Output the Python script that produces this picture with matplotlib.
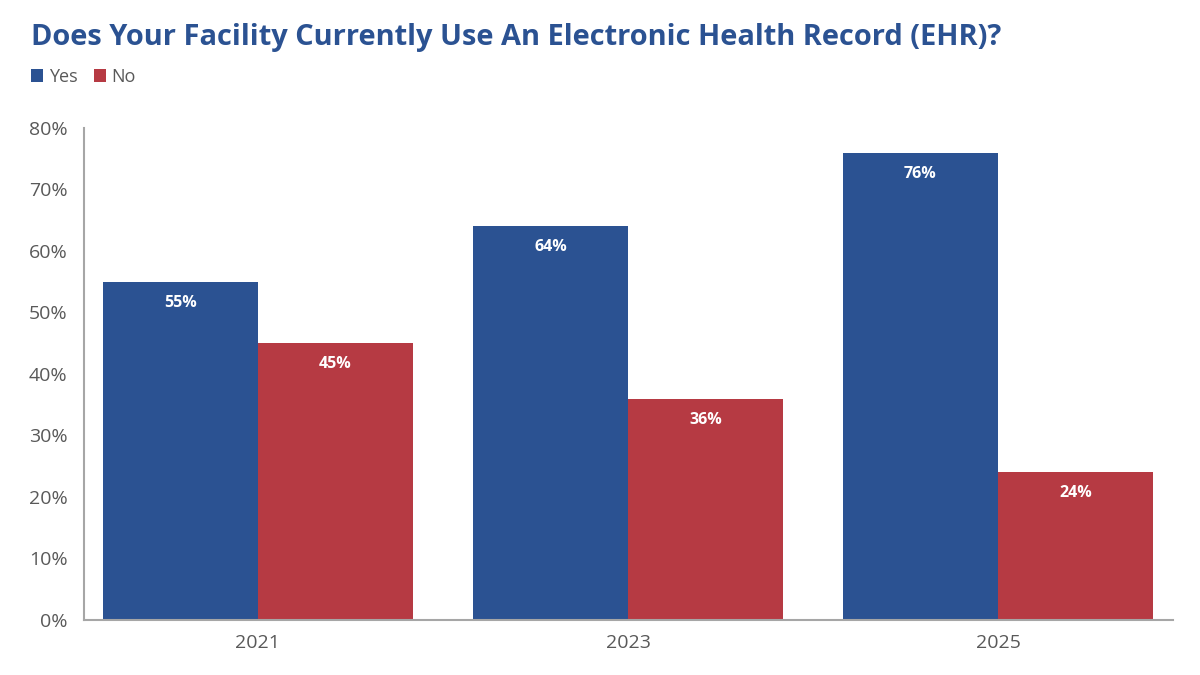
import matplotlib.pyplot as plt
import numpy as np

# データ
years = ["2021", "2023", "2025"]
yes_vals = [55, 64, 76]
no_vals = [45, 36, 24]
series_names = ["Yes", "No"]

BLUE = "#2B5292"
RED = "#B63A43"
GRAY = "#595959"

plt.rcParams['font.family'] = ['Open Sans', 'DejaVu Sans']

fig = plt.figure(figsize=(12, 6.75), dpi=100)
ax = fig.add_axes([0.07, 0.0815, 0.9075, 0.729])

x = np.arange(len(years))
w = 0.419
b1 = ax.bar(x - w / 2, yes_vals, w, color=BLUE, label=series_names[0])
b2 = ax.bar(x + w / 2, no_vals, w, color=RED, label=series_names[1])

# 値ラベル
for bars, vals in [(b1, yes_vals), (b2, no_vals)]:
    for rect, v in zip(bars, vals):
        ax.annotate(f"{v}%", (rect.get_x() + rect.get_width() / 2, rect.get_height()),
                    xytext=(0, -21), textcoords="offset pixels",
                    ha="center", va="center", color="white",
                    fontsize=11.5, fontweight="bold")

ax.set_ylim(0, 80)
ax.set_xlim(-0.47, 2.473)
ax.set_yticks(range(0, 81, 10))
ax.set_yticklabels([f"{t}%" for t in range(0, 81, 10)])
ax.set_xticks(x)
ax.set_xticklabels(years)
ax.tick_params(axis="both", length=0, labelsize=14, colors=GRAY)
ax.tick_params(axis="y", pad=12)
ax.tick_params(axis="x", pad=10)
for s in ["top", "right"]:
    ax.spines[s].set_visible(False)
for s in ["left", "bottom"]:
    ax.spines[s].set_color("#A6A6A6")
    ax.spines[s].set_linewidth(1.5)

fig.text(0.026, 0.945, "Does Your Facility Currently Use An Electronic Health Record (EHR)?",
         fontsize=20.9, fontweight="bold", color=BLUE, va="center", ha="left")

fig.legend(handles=[b1, b2], labels=series_names, loc="center left",
           bbox_to_anchor=(0.012, 0.886), ncol=2, frameon=False,
           handlelength=0.7, handleheight=0.7, handletextpad=0.3,
           columnspacing=0.9, fontsize=13, labelcolor=GRAY)

fig.savefig("out.png", dpi=100)
